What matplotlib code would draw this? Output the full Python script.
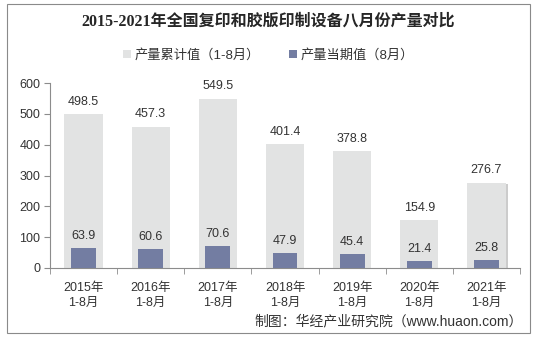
import matplotlib
matplotlib.use('Agg')
import matplotlib.pyplot as plt
import matplotlib.patheffects as pe
from matplotlib.patches import Rectangle
import numpy as np

plt.rcParams['font.family'] = ['Liberation Sans', 'Noto Sans CJK SC', 'DejaVu Sans']

# data
years = ['2015年\n1-8月', '2016年\n1-8月', '2017年\n1-8月', '2018年\n1-8月',
         '2019年\n1-8月', '2020年\n1-8月', '2021年\n1-8月']
cumulative = [498.5, 457.3, 549.5, 401.4, 378.8, 154.9, 276.7]
monthly = [63.9, 60.6, 70.6, 47.9, 45.4, 21.4, 25.8]
yticks = [0, 100, 200, 300, 400, 500, 600]

title = '2015-2021年全国复印和胶版印制设备八月份产量对比'
label_cum = '产量累计值（1-8月）'
label_mon = '产量当期值（8月）'
source = '制图：华经产业研究院（www.huaon.com）'

gray = '#E2E3E3'
blue = '#737DA2'
text_c = '#333333'
axis_c = '#8C8C8C'

W, H = 537, 339
fig = plt.figure(figsize=(W / 100, H / 100), dpi=100)
ax = fig.add_axes([50 / W, 1 - 268 / H, 470 / W, 185 / H])

x = np.arange(len(years))
b1 = ax.bar(x, cumulative, width=0.57, color=gray, label=label_cum, zorder=2)
b2 = ax.bar(x, monthly, width=0.37, color=blue, label=label_mon, zorder=3)

# the last column has a soft shadow in the original
b1[-1].set_path_effects([pe.SimplePatchShadow(offset=(2, -1), shadow_rgbFace='#9a9a9a',
                                              alpha=0.5), pe.Normal()])

for xi, v in zip(x, cumulative):
    ax.annotate(f'{v:.1f}', (xi, v), xytext=(0, 9), textcoords='offset points',
                ha='center', va='center', fontsize=9, color=text_c)
for xi, v in zip(x, monthly):
    ax.annotate(f'{v:.1f}', (xi, v), xytext=(0, 9), textcoords='offset points',
                ha='center', va='center', fontsize=9, color=text_c)

ax.set_xlim(-0.5, len(years) - 0.5)
ax.set_ylim(0, 600)
ax.set_yticks(yticks)
ax.set_yticklabels([str(t) for t in yticks], fontsize=9, color=text_c)
ax.set_xticks(x)
ax.set_xticklabels(years, fontsize=9, color=text_c, linespacing=1.3)
ax.tick_params(axis='x', length=0, pad=10)
ax.set_xticks(np.arange(-0.5, len(years)), minor=True)
ax.tick_params(axis='x', which='minor', length=4, color=axis_c, direction='out')
ax.tick_params(axis='y', length=4, color=axis_c, pad=3)

for s in ['top', 'right']:
    ax.spines[s].set_visible(False)
for s in ['left', 'bottom']:
    ax.spines[s].set_color(axis_c)
    ax.spines[s].set_linewidth(0.8)

fig.text(0.5, 1 - 22 / H, title, ha='center', va='center', fontsize=11.5,
         fontweight='bold', color='#262626',
         family=['Liberation Serif', 'Noto Sans CJK SC'])

fig.legend(handles=[b1, b2], labels=[label_cum, label_mon], loc='center',
           bbox_to_anchor=(0.5, 1 - 55 / H), ncol=2, frameon=False,
           fontsize=9.5, handlelength=0.6, handleheight=0.6, handletextpad=0.3,
           columnspacing=2.2, labelcolor=text_c)

fig.text(523 / W, 1 - 321 / H, source, ha='right', va='center', fontsize=10,
         color=text_c)

fig.patches.append(Rectangle((7 / W, 1 - 333 / H), 523 / W, 329 / H,
                             transform=fig.transFigure, fill=False,
                             edgecolor='#8A8A8A', linewidth=0.8))

fig.savefig('out.png', dpi=100)
